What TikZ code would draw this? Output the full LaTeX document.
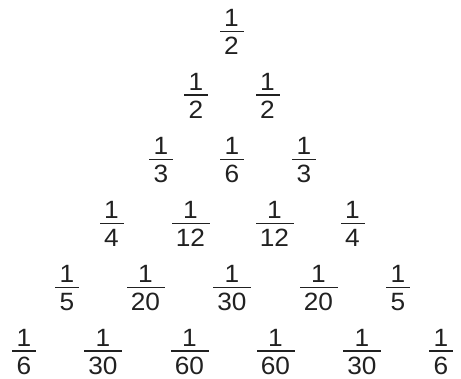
\documentclass[tikz,border=0pt]{standalone}
\usepackage{fontspec}
\setmainfont{Liberation Sans}[FakeStretch=1.05]
\usepackage{tikz}
\definecolor{ink}{gray}{0.13}

\begin{document}
\begin{tikzpicture}[
    x=1pt, y=1pt,
    bar/.style={fill=ink, draw=none, inner sep=0pt, minimum height=1.1pt, minimum width=24pt},
    widebar/.style={bar, minimum width=38pt},
    num/.style={inner sep=0pt, text depth=0pt, text=ink, label distance=3.6pt, font=\fontsize{25}{30}\selectfont},
    den/.style={inner sep=0pt, text height=17.9pt, text depth=0pt, text=ink, label distance=4.6pt, font=\fontsize{25}{30}\selectfont},
    frac/.style 2 args={label={[num]above:#1}, label={[den]below:#2}}
]
\useasboundingbox (0,0) rectangle (461,-379);

% Row 1
\node[bar, frac={1}{2}] (r1a) at (231.5,-31.5) {};

% Row 2
\node[bar, frac={1}{2}] (r2a) at (196,-95) {};
\node[bar, frac={1}{2}] (r2b) at (267.5,-95) {};

% Row 3
\node[bar, frac={1}{3}] (r3a) at (161,-159.3) {};
\node[bar, frac={1}{6}] (r3b) at (232,-159.3) {};
\node[bar, frac={1}{3}] (r3c) at (304,-159.3) {};

% Row 4
\node[bar, frac={1}{4}] (r4a) at (111.5,-223.3) {};
\node[widebar, frac={1}{12}] (r4b) at (190.5,-223.3) {};
\node[widebar, frac={1}{12}] (r4c) at (274.5,-223.3) {};
\node[bar, frac={1}{4}] (r4d) at (352.5,-223.3) {};

% Row 5
\node[bar, frac={1}{5}] (r5a) at (67,-287.3) {};
\node[widebar, frac={1}{20}] (r5b) at (145.5,-287.3) {};
\node[widebar, frac={1}{30}] (r5c) at (232,-287.3) {};
\node[widebar, frac={1}{20}] (r5d) at (318.5,-287.3) {};
\node[bar, frac={1}{5}] (r5e) at (398,-287.3) {};

% Row 6
\node[bar, frac={1}{6}] (r6a) at (24,-351) {};
\node[widebar, frac={1}{30}] (r6b) at (103,-351) {};
\node[widebar, frac={1}{60}] (r6c) at (189.5,-351) {};
\node[widebar, frac={1}{60}] (r6d) at (275.5,-351) {};
\node[widebar, frac={1}{30}] (r6e) at (362,-351) {};
\node[bar, frac={1}{6}] (r6f) at (441,-351) {};
\end{tikzpicture}
\end{document}
